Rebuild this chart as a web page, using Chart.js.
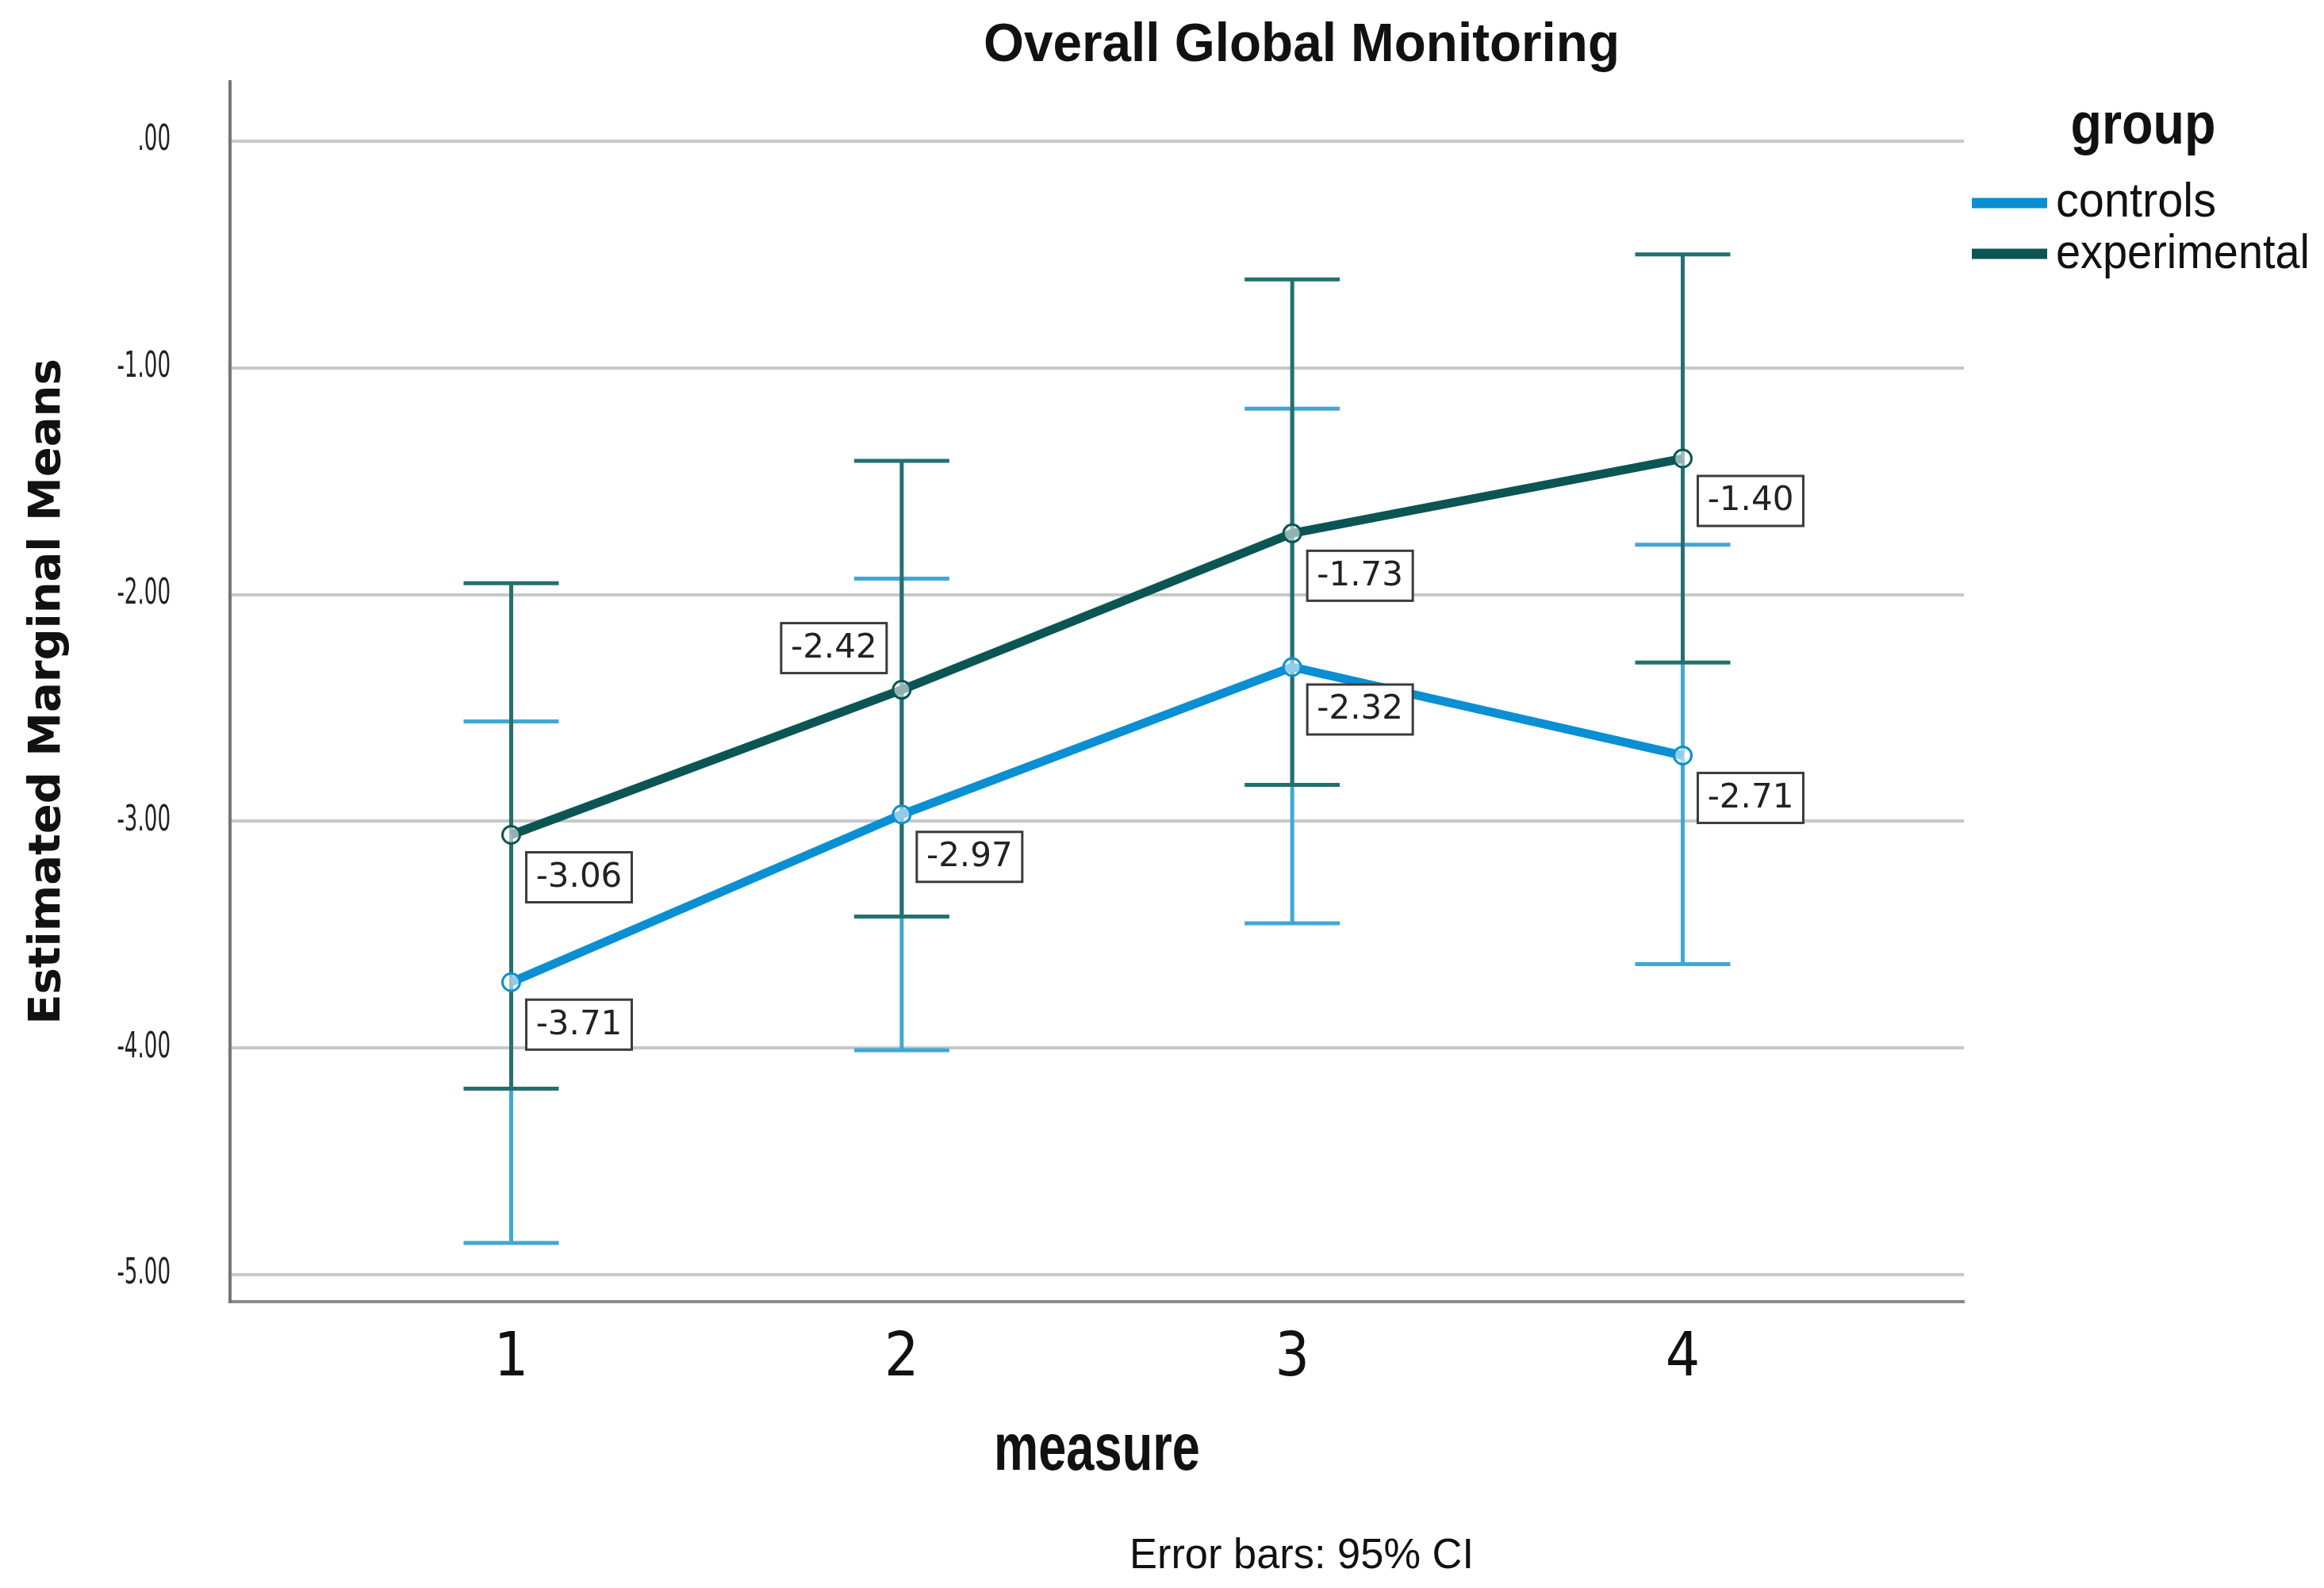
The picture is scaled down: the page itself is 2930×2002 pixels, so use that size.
<!DOCTYPE html>
<html>
<head>
<meta charset="utf-8">
<script src="https://cdn.jsdelivr.net/npm/chart.js@4.4.1/dist/chart.umd.min.js"></script>
<style>
  html, body { margin: 0; padding: 0; background: #ffffff; overflow: hidden; }
  canvas { display: block; }
</style>
</head>
<body>
<canvas id="c" width="2930" height="2002"></canvas>
<script>
// ---- data ----
const measures = [1, 2, 3, 4];
const seriesNames = ['controls', 'experimental'];
const controlsMean = [-3.71, -2.97, -2.32, -2.71];
const controlsLower = [-4.86, -4.01, -3.45, -3.63];
const controlsUpper = [-2.56, -1.93, -1.18, -1.78];
const experimentalMean = [-3.06, -2.42, -1.73, -1.40];
const experimentalLower = [-4.18, -3.42, -2.84, -2.30];
const experimentalUpper = [-1.95, -1.41, -0.61, -0.50];
const yTickValues = [-5, -4, -3, -2, -1, 0];
const xTickValues = [1, 2, 3, 4];
// label placement: true = box above-left of the point
const controlsLabelAbove = [false, false, false, false];
const experimentalLabelAbove = [false, true, false, false];

const chartTitle = 'Overall Global Monitoring';
const yAxisTitle = 'Estimated Marginal Means';
const xAxisTitle = 'measure';
const legendTitle = 'group';
const footnote = 'Error bars: 95% CI';

// ---- styles ----
const NARROW = '"Liberation Sans Narrow", "DejaVu Sans Condensed", "Liberation Sans", Arial, sans-serif';
const SANS = '"Liberation Sans", Arial, sans-serif';
const colors = {
  controls: '#0a8fd2', controlsCI: '#3fa8d4',
  experimental: '#0b5654', experimentalCI: '#25706f'
};

function toPoints(vals) { return measures.map((m, i) => ({ x: m, y: vals[i] })); }

const datasets = [
  {
    label: seriesNames[0], data: toPoints(controlsMean),
    ciLower: controlsLower, ciUpper: controlsUpper, ciColor: colors.controlsCI,
    labelAbove: controlsLabelAbove,
    borderColor: colors.controls, backgroundColor: colors.controls,
    pointBorderColor: colors.controls, pointBackgroundColor: 'rgba(255,255,255,0.55)',
    borderWidth: 11, pointRadius: 11, pointBorderWidth: 3, tension: 0, order: 2
  },
  {
    label: seriesNames[1], data: toPoints(experimentalMean),
    ciLower: experimentalLower, ciUpper: experimentalUpper, ciColor: colors.experimentalCI,
    labelAbove: experimentalLabelAbove,
    borderColor: colors.experimental, backgroundColor: colors.experimental,
    pointBorderColor: colors.experimental, pointBackgroundColor: 'rgba(255,255,255,0.55)',
    borderWidth: 11, pointRadius: 11, pointBorderWidth: 3, tension: 0, order: 1
  }
];

function fitText(ctx, text, x, y, size, weight, family, targetW, align) {
  ctx.save();
  ctx.font = weight + ' ' + size + 'px ' + family;
  const w = ctx.measureText(text).width;
  const s = targetW / w;
  ctx.translate(x, y);
  ctx.scale(s, 1);
  ctx.textAlign = align;
  ctx.textBaseline = 'alphabetic';
  ctx.fillStyle = '#111111';
  ctx.fillText(text, 0, 0);
  ctx.restore();
}

const backgroundPlugin = {
  id: 'bg',
  beforeDraw(chart) {
    const ctx = chart.ctx;
    ctx.save();
    ctx.fillStyle = '#ffffff';
    ctx.fillRect(0, 0, chart.width, chart.height);
    ctx.restore();
    // narrow the y tick labels (drawn by the scale itself) around their right edge
    const ys = chart.scales.y;
    if (ys && !ys._narrowed) {
      const orig = ys.drawLabels;
      ys.drawLabels = function (area) {
        const c = this.ctx;
        const ax = this.right - 75;
        c.save();
        c.translate(ax, 0);
        c.scale(0.66, 1);
        c.translate(-ax, 0);
        orig.call(this, area);
        c.restore();
      };
      ys._narrowed = true;
    }
  }
};

const errorBarPlugin = {
  id: 'errorBars',
  beforeDatasetsDraw(chart) {
    const ctx = chart.ctx;
    const xs = chart.scales.x, ys = chart.scales.y;
    chart.data.datasets.forEach((ds) => {
      ctx.save();
      ctx.strokeStyle = ds.ciColor;
      ctx.lineWidth = 5;
      ds.data.forEach((pt, i) => {
        const px = xs.getPixelForValue(pt.x);
        const pl = ys.getPixelForValue(ds.ciLower[i]);
        const ph = ys.getPixelForValue(ds.ciUpper[i]);
        const cap = 60;
        ctx.beginPath();
        ctx.moveTo(px, pl); ctx.lineTo(px, ph);
        ctx.moveTo(px - cap, pl); ctx.lineTo(px + cap, pl);
        ctx.moveTo(px - cap, ph); ctx.lineTo(px + cap, ph);
        ctx.stroke();
      });
      ctx.restore();
    });
  }
};

const valueLabelPlugin = {
  id: 'valueLabels',
  afterDatasetsDraw(chart) {
    const ctx = chart.ctx;
    const xs = chart.scales.x, ys = chart.scales.y;
    const bw = 133, bh = 63;
    chart.data.datasets.forEach((ds) => {
      ds.data.forEach((pt, i) => {
        const px = xs.getPixelForValue(pt.x);
        const py = ys.getPixelForValue(pt.y);
        let bx, by;
        if (ds.labelAbove[i]) { bx = px - 19 - bw; by = py - 21 - bh; }
        else { bx = px + 19; by = py + 22; }
        ctx.save();
        ctx.fillStyle = '#ffffff';
        ctx.fillRect(bx, by, bw, bh);
        ctx.strokeStyle = '#3c3c3c';
        ctx.lineWidth = 3;
        ctx.strokeRect(bx, by, bw, bh);
        ctx.fillStyle = '#222222';
        ctx.font = '42px "DejaVu Sans", sans-serif';
        ctx.textAlign = 'center';
        ctx.textBaseline = 'middle';
        ctx.fillText(pt.y.toFixed(2), bx + bw / 2, by + bh / 2 + 1);
        ctx.restore();
      });
    });
  }
};

const annotationPlugin = {
  id: 'annotations',
  afterDraw(chart) {
    const ctx = chart.ctx;
    const area = chart.chartArea;
    // title
    fitText(ctx, chartTitle, 1641, 77, 68, 'bold', SANS, 802, 'center');
    // x axis title, centred under the plot area
    fitText(ctx, xAxisTitle, (area.left + area.right) / 2, 1853, 84, 'bold', SANS, 260, 'center');
    // footnote
    fitText(ctx, footnote, 1641, 1977, 54, 'normal', SANS, 434, 'center');
    // legend
    fitText(ctx, legendTitle, 2702, 181, 74, 'bold', SANS, 183, 'center');
    const rows = [
      { name: seriesNames[0], color: colors.controls, lineY: 256, base: 273, w: 202 },
      { name: seriesNames[1], color: colors.experimental, lineY: 320, base: 338, w: 320 }
    ];
    rows.forEach(r => {
      ctx.save();
      ctx.strokeStyle = r.color;
      ctx.lineWidth = 13;
      ctx.beginPath();
      ctx.moveTo(2486, r.lineY);
      ctx.lineTo(2581, r.lineY);
      ctx.stroke();
      ctx.restore();
      fitText(ctx, r.name, 2592, r.base, 61, 'normal', SANS, r.w, 'left');
    });
  }
};

new Chart(document.getElementById('c'), {
  type: 'line',
  data: { datasets: datasets },
  plugins: [backgroundPlugin, errorBarPlugin, valueLabelPlugin, annotationPlugin],
  options: {
    responsive: false,
    devicePixelRatio: 1,
    animation: false,
    layout: { padding: { top: 103, right: 454, bottom: 129, left: 0 } },
    plugins: {
      legend: { display: false },
      title: { display: false },
      tooltip: { enabled: false }
    },
    scales: {
      x: {
        type: 'linear',
        min: 0.28, max: 4.72,
        afterBuildTicks(scale) { scale.ticks = xTickValues.map(v => ({ value: v })); },
        afterFit(scale) { scale.height = 232; },
        grid: { display: false, drawTicks: false },
        border: { display: true, color: '#8a8a8a', width: 4 },
        ticks: {
          padding: 28,
          color: '#111111',
          font: { family: NARROW, size: 76 },
          callback: (v) => String(v)
        },
        title: { display: false, text: xAxisTitle }
      },
      y: {
        type: 'linear',
        min: -5.119, max: 0.262,
        afterBuildTicks(scale) { scale.ticks = yTickValues.map(v => ({ value: v })); },
        afterFit(scale) { scale.width = 290; },
        grid: { color: '#c8c8c8', lineWidth: 4, drawTicks: false },
        border: { display: true, color: '#777777', width: 4 },
        ticks: {
          padding: 75,
          color: '#222222',
          font: { family: NARROW, size: 44 },
          callback: (v) => (v === 0 ? '.00' : v.toFixed(2))
        },
        title: {
          display: true, text: yAxisTitle, color: '#111111',
          font: { family: '"DejaVu Sans", sans-serif', size: 56, weight: 'bold' },
          padding: { top: 27, bottom: 0 }
        }
      }
    }
  }
});
</script>
</body>
</html>
